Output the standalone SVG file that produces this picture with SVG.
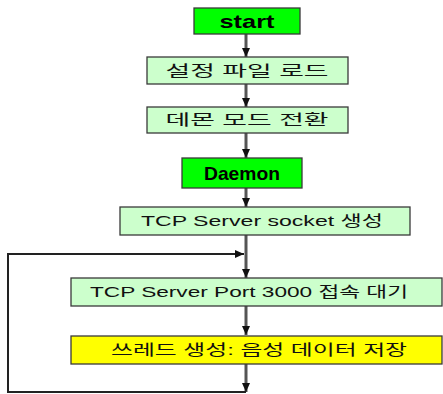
<svg xmlns="http://www.w3.org/2000/svg" width="443" height="394" viewBox="0 0 443 394">
<style>
.box{stroke:#3a3a3a;stroke-width:1.3}
.g{fill:#00ff00}
.lg{fill:#ccffcc}
.y{fill:#ffff00}
.t{font-family:"Liberation Sans","Noto Sans CJK KR",sans-serif;font-size:15px;fill:#111;text-anchor:middle}
.tb{font-family:"Liberation Sans",sans-serif;font-size:19px;font-weight:bold;fill:#000;text-anchor:middle}
.c{stroke:#555;stroke-width:3;fill:none}
.loop{stroke:#222;stroke-width:2;fill:none}
</style>
<defs>
<marker id="ah" markerUnits="userSpaceOnUse" markerWidth="10" markerHeight="8" refX="9" refY="4" orient="auto">
<path d="M0,0 L9,4 L0,8 Z" fill="#111"/>
</marker>
</defs>
<g id="connectors">
<line class="c" x1="246" y1="34" x2="246" y2="57" marker-end="url(#ah)"/>
<line class="c" x1="246" y1="84" x2="246" y2="107" marker-end="url(#ah)"/>
<line class="c" x1="246" y1="133" x2="246" y2="158" marker-end="url(#ah)"/>
<line class="c" x1="246" y1="188" x2="246" y2="207" marker-end="url(#ah)"/>
<line class="c" x1="246" y1="235" x2="246" y2="278" marker-end="url(#ah)"/>
<line class="c" x1="246" y1="306" x2="246" y2="335" marker-end="url(#ah)"/>
<line class="c" x1="246" y1="364" x2="246" y2="392" marker-end="url(#ah)"/>
<polyline class="loop" points="246,392 8,392 8,254 244,254" marker-end="url(#ah)"/>
</g>
<g id="start">
<rect class="box g" x="194" y="8" width="106" height="26"/>
<text class="tb" x="247" y="28" textLength="55" lengthAdjust="spacingAndGlyphs">start</text>
</g>
<g id="load-config">
<rect class="box lg" x="147" y="57" width="201" height="27"/>
<text class="t" x="247" y="76" textLength="163" lengthAdjust="spacingAndGlyphs">설정 파일 로드</text>
</g>
<g id="daemon-mode">
<rect class="box lg" x="147" y="107" width="201" height="26"/>
<text class="t" x="247" y="125" textLength="163" lengthAdjust="spacingAndGlyphs">데몬 모드 전환</text>
</g>
<g id="daemon">
<rect class="box g" x="182" y="158" width="120" height="30"/>
<text class="tb" x="242" y="180" textLength="76" lengthAdjust="spacingAndGlyphs">Daemon</text>
</g>
<g id="socket">
<rect class="box lg" x="120" y="207" width="290" height="28"/>
<text class="t" x="262" y="226" textLength="242" lengthAdjust="spacingAndGlyphs">TCP Server socket 생성</text>
</g>
<g id="listen">
<rect class="box lg" x="71" y="278" width="371" height="28"/>
<text class="t" x="249" y="297" textLength="318" lengthAdjust="spacingAndGlyphs">TCP Server Port 3000 접속 대기</text>
</g>
<g id="thread">
<rect class="box y" x="71" y="336" width="371" height="28"/>
<text class="t" x="259" y="355" textLength="296" lengthAdjust="spacingAndGlyphs">쓰레드 생성: 음성 데이터 저장</text>
</g>
</svg>
